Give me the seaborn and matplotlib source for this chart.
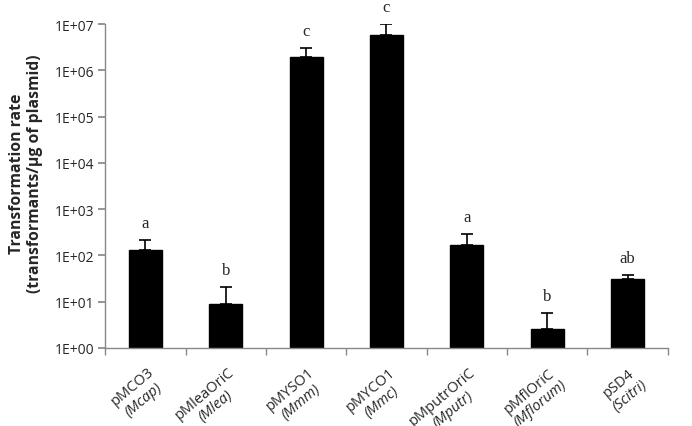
import matplotlib
matplotlib.use("Agg")
import matplotlib.pyplot as plt
import matplotlib.transforms as mtransforms
import seaborn as sns
import numpy as np
import pandas as pd

plasmids = ["pMCO3", "pMleaOriC", "pMYSO1", "pMYCO1", "pMputrOriC", "pMflOriC", "pSD4"]
species = ["Mcap", "Mlea", "Mmm", "Mmc", "Mputr", "Mflorum", "Scitri"]
rates = [132, 9, 2.0e6, 5.7e6, 167, 2.5, 31]
upper = [210, 21, 3.0e6, 1.0e7, 285, 5.8, 38]
letters = ["a", "b", "c", "c", "a", "b", "ab"]

sns.set_theme(style="white")
plt.rcParams["font.family"] = ["Open Sans", "DejaVu Sans"]

df = pd.DataFrame({"plasmid": plasmids, "rate": rates})

fig = plt.figure(figsize=(6.92, 4.27), dpi=100)
ax = fig.add_axes([0.152, 0.183, 0.813, 0.758])

sns.barplot(data=df, x="plasmid", y="rate", color="black", saturation=1,
            width=0.41, ax=ax, edgecolor="black")
ax.set_yscale("log")
ax.set_ylim(1, 1e7)
ax.set_xlim(-0.5, len(plasmids) - 0.5)

x = np.arange(len(plasmids))
err_up = np.array(upper) - np.array(rates)
ax.errorbar(x, rates, yerr=[np.zeros(len(rates)), err_up], fmt="none",
            ecolor="black", elinewidth=1.2, capsize=4, capthick=1.2)

for xi, u, lab in zip(x, upper, letters):
    ax.annotate(lab, (xi, u), xytext=(0, 6.5), textcoords="offset points",
                ha="center", va="bottom", fontsize=12,
                family="Liberation Serif", annotation_clip=False)

ax.set_yticks([10.0 ** k for k in range(8)])
ax.set_yticklabels([f"1E+{k:02d}" for k in range(8)], fontsize=10)
ax.minorticks_off()
ax.tick_params(axis="y", left=True, length=5, color="#888888", direction="out", pad=3)

# category labels: two rotated lines (name, italic species) under each bar
ax.set_xticks(x)
ax.set_xticklabels([])
ax.tick_params(axis="x", bottom=False)
ax.set_xticks(np.arange(-0.5, len(plasmids)), minor=True)
ax.tick_params(axis="x", which="minor", bottom=True, length=5, color="#888888", direction="out")

renderer = fig.canvas.get_renderer()


def text_width(s, **kw):
    t = fig.text(0, 0, s, fontsize=10.5, **kw)
    w = t.get_window_extent(renderer).width
    t.remove()
    return w


ang = np.deg2rad(40)
u = np.array([np.cos(ang), np.sin(ang)])
n = np.array([np.sin(ang), -np.cos(ang)])
line_h = 16.5
anchor = np.array([2, -16])
base = ax.get_xaxis_transform()
for xi, p, s in zip(x, plasmids, species):
    lines = [(p, "normal"), (f"({s})", "italic")]
    W = max(text_width(t, style=st) for t, st in lines)
    for k, (t, st) in enumerate(lines):
        pos = anchor - u * W / 2 + n * line_h * k
        off = mtransforms.ScaledTranslation(pos[0] / 100, pos[1] / 100, fig.dpi_scale_trans)
        ax.text(xi, 0, t, transform=base + off, rotation=40, rotation_mode="anchor",
                ha="center", va="top", fontsize=10.5, style=st)

ax.set_xlabel("")
ax.set_ylabel("Transformation rate\n(transformants/µg of plasmid)", fontsize=11.3,
              fontweight="bold")
ax.yaxis.set_label_coords(-0.11, 0.54)

sns.despine(ax=ax)
for s in ["left", "bottom"]:
    ax.spines[s].set_color("#888888")
    ax.spines[s].set_linewidth(1)

fig.savefig("out.png", dpi=100)
